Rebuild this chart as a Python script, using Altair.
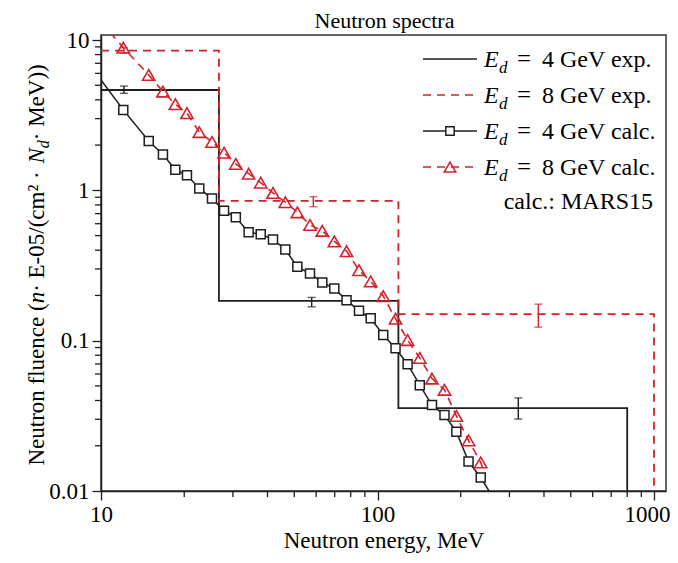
import altair as alt
import pandas as pd

# ---------------- data ----------------
calc_energy = [12.04, 14.88, 16.75, 18.57, 20.46, 22.67, 25.20, 27.86, 30.73, 34.19,
               37.81, 41.88, 46.41, 51.29, 57.00, 63.15, 69.79, 77.27, 85.73, 94.50,
               104.9, 116.2, 128.5, 142.2, 157.4, 174.7, 192.8, 213.4, 236.2]
calc_4gev = [3.43, 2.13, 1.73, 1.37, 1.26, 1.03, 0.881, 0.733, 0.662, 0.526,
             0.511, 0.471, 0.404, 0.310, 0.280, 0.244, 0.222, 0.186, 0.158, 0.141,
             0.109, 0.089, 0.0697, 0.0506, 0.0373, 0.0320, 0.0248, 0.0157, 0.0123]
calc_8gev = [8.89, 5.86, 4.54, 3.74, 3.26, 2.44, 2.10, 1.78, 1.50, 1.29,
             1.125, 0.961, 0.835, 0.714, 0.589, 0.538, 0.457, 0.394, 0.294, 0.248,
             0.198, 0.140, 0.101, 0.0768, 0.0560, 0.0471, 0.0316, 0.0217, 0.0155]
calc_4gev_start = (10, 5.42)
calc_4gev_end = (254, 0.0099)
calc_8gev_start = (10, 13.2)
calc_8gev_end = (245, 0.0128)

exp_edges_4gev = [10, 26.7, 119, 800]
exp_vals_4gev = [4.65, 0.184, 0.0356]
exp_edges_8gev = [10, 26.7, 119, 1000]
exp_vals_8gev = [8.5, 0.85, 0.1504]
floor_value = 0.01

err_4gev_e = [12.1, 57.8, 323]
err_4gev_lo = [4.42, 0.168, 0.0301]
err_4gev_hi = [4.94, 0.194, 0.0416]
err_8gev_e = [12.1, 58.6, 381.6]
err_8gev_lo = [8.2, 0.778, 0.123]
err_8gev_hi = [8.9, 0.907, 0.175]

x_major = [10, 100, 1000]
x_minor = [20, 30, 40, 50, 60, 70, 80, 90, 200, 300, 400, 500, 600, 700, 800, 900]
y_major = [0.01, 0.1, 1, 10]
y_minor = [0.02, 0.03, 0.04, 0.05, 0.06, 0.07, 0.08, 0.09,
           0.2, 0.3, 0.4, 0.5, 0.6, 0.7, 0.8, 0.9,
           2, 3, 4, 5, 6, 7, 8, 9]

legend_labels = ["= 4 GeV exp.", "= 8 GeV exp.", "= 4 GeV calc.", "= 8 GeV calc."]
note_text = "calc.: MARS15"
title_text = "Neutron spectra"
x_title = "Neutron energy, MeV"

# ---------------- style ----------------
FONT = "Liberation Serif"
BLACK = "#1e1e1e"
RED = "#d6212b"
DASH = [8, 6]
W, H = 565, 456
OX, OY = 101, 35  # plot origin on page
MINOR = 6

xscale = alt.Scale(type="log", domain=[10, 1105], nice=False)
yscale = alt.Scale(type="log", domain=[0.01, 10.8], nice=False)
x_axis = alt.Axis(values=x_major, format="~g", tickSize=9, labelFlush=False,
                  labelOffset=alt.condition("datum.value >= 1000", alt.value(-7), alt.value(0)),
                  title=x_title, labelPadding=3, titlePadding=3)
y_axis = alt.Axis(values=y_major, format="~g", tickSize=9, labelFlush=False,
                  title=None, labelPadding=3)


def X(field="e"):
    return alt.X(f"{field}:Q", scale=xscale, axis=x_axis)


def Y(field="v"):
    return alt.Y(f"{field}:Q", scale=yscale, axis=y_axis)


# ---------------- tables ----------------
exp4 = pd.DataFrame({"e": exp_edges_4gev, "v": exp_vals_4gev + [floor_value]})
exp8 = pd.DataFrame({"e": exp_edges_8gev, "v": exp_vals_8gev + [floor_value]})
line4 = pd.DataFrame({"e": [calc_4gev_start[0]] + calc_energy + [calc_4gev_end[0]],
                      "v": [calc_4gev_start[1]] + calc_4gev + [calc_4gev_end[1]]})
line8 = pd.DataFrame({"e": [calc_8gev_start[0]] + calc_energy + [calc_8gev_end[0]],
                      "v": [calc_8gev_start[1]] + calc_8gev + [calc_8gev_end[1]]})
pts4 = pd.DataFrame({"e": calc_energy, "v": calc_4gev})
pts8 = pd.DataFrame({"e": calc_energy, "v": calc_8gev})
err4 = pd.DataFrame({"e": err_4gev_e, "lo": err_4gev_lo, "hi": err_4gev_hi})
err8 = pd.DataFrame({"e": err_8gev_e, "lo": err_8gev_lo, "hi": err_8gev_hi})
xminor_df = pd.DataFrame({"e": x_minor})
yminor_df = pd.DataFrame({"v": y_minor})
dummy = pd.DataFrame({"k": [0]})

layers = []
layers.append(alt.Chart(exp4).mark_line(interpolate="step-after", color=BLACK, strokeWidth=1.8, clip=True)
              .encode(x=X(), y=Y()))
layers.append(alt.Chart(exp8).mark_line(interpolate="step-after", color=RED, strokeWidth=1.8,
                                        strokeDash=DASH, clip=True)
              .encode(x=X(), y=Y()))
layers.append(alt.Chart(line4).mark_line(color=BLACK, strokeWidth=1.5, clip=True)
              .encode(x=X(), y=Y()))
layers.append(alt.Chart(line8).mark_line(color=RED, strokeWidth=1.6, strokeDash=DASH, clip=True)
              .encode(x=X(), y=Y()))
layers.append(alt.Chart(err4).mark_errorbar(ticks={"size": 8}, thickness=1.4, color=BLACK)
              .encode(x=X(), y=Y("lo"), y2="hi:Q"))
layers.append(alt.Chart(err8).mark_errorbar(ticks={"size": 8}, thickness=1.4, color=RED)
              .encode(x=X(), y=Y("lo"), y2="hi:Q"))
layers.append(alt.Chart(pts4).mark_point(shape="square", size=81, filled=True, fill="white",
                                         stroke=BLACK, strokeWidth=1.5, opacity=1)
              .encode(x=X(), y=Y()))
layers.append(alt.Chart(pts8).mark_point(shape="triangle-up", size=150, filled=False,
                                         stroke=RED, strokeWidth=1.6, opacity=1)
              .encode(x=X(), y=Y()))
# minor log ticks (outward), placed through the scales
layers.append(alt.Chart(xminor_df).mark_rule(color=BLACK, strokeWidth=1.3)
              .encode(x=X(), y=alt.value(H), y2=alt.value(H + MINOR)))
layers.append(alt.Chart(yminor_df).mark_rule(color=BLACK, strokeWidth=1.3)
              .encode(y=Y(), x=alt.value(0), x2=alt.value(-MINOR)))


def txt(text, x, y, size=24, style="normal", align="left", angle=0):
    kw = dict(text=text, font=FONT, fontSize=size, fontStyle=style, align=align,
              baseline="alphabetic", color="black")
    if angle:
        kw["angle"] = angle
    return alt.Chart(dummy).mark_text(**kw).encode(x=alt.value(x - OX), y=alt.value(y - OY))


# ---------------- title ----------------
layers.append(txt(title_text, OX + W / 2 + 1, 28, size=22, align="center"))

# ---------------- legend (inside plot, top right) ----------------
row_y = [59, 95, 131, 167, 201]
leg_colors = [BLACK, RED, BLACK, RED]
leg_dash = [None, DASH, None, DASH]
leg_shape = [None, None, "square", "triangle-up"]
for i, lab in enumerate(legend_labels):
    rk = dict(color=leg_colors[i], strokeWidth=1.6)
    if leg_dash[i]:
        rk["strokeDash"] = leg_dash[i]
    layers.append(alt.Chart(dummy).mark_rule(**rk).encode(
        x=alt.value(423 - OX), x2=alt.value(477 - OX), y=alt.value(row_y[i] - OY)))
    if leg_shape[i] == "square":
        layers.append(alt.Chart(dummy).mark_point(shape="square", size=70, filled=True, fill="white",
                                                  stroke=BLACK, strokeWidth=1.5, opacity=1)
                      .encode(x=alt.value(450 - OX), y=alt.value(row_y[i] - OY)))
    elif leg_shape[i] == "triangle-up":
        layers.append(alt.Chart(dummy).mark_point(shape="triangle-up", size=130, filled=False,
                                                  stroke=RED, strokeWidth=1.6, opacity=1)
                      .encode(x=alt.value(450 - OX), y=alt.value(row_y[i] - OY)))
    base = row_y[i] + 8
    layers.append(txt("E", 484, base, style="italic"))
    layers.append(txt("d", 499, base + 6, size=17, style="italic"))
    layers.append(txt(lab.split(" ", 1)[0], 517, base, size=25))
    layers.append(txt(lab.split(" ", 1)[1], 542, base))
layers.append(txt(note_text, 653, row_y[4] + 8, align="right"))

# ---------------- y-axis title with italic parts (rotated) ----------------
FS = 23
pieces = [("Neutron fluence (", "normal", FS, 0, 7.053),
          ("n", "italic", FS, 0, 0.500),
          (" \u00b7 E-05/(cm\u00b2 \u00b7 ", "normal", FS, 0, 5.577),
          ("N", "italic", FS, 0, 0.667),
          ("d", "italic", 16, 5, 0.500),
          (" \u00b7 MeV))", "normal", FS, 0, 3.471)]
total = sum(p[2] * p[4] for p in pieces)
ypos = OY + H / 2 + total / 2
for text, style, size, shift, em in pieces:
    layers.append(txt(text, 44 + shift, ypos, size=size, style=style, angle=270))
    ypos -= size * em

chart = alt.layer(*layers).properties(
    width=W, height=H,
    autosize=alt.AutoSizeParams(type="none"),
    padding={"left": OX - 8, "top": OY - 8, "right": 4, "bottom": 64},
).configure_axis(
    labelFont=FONT, labelFontSize=23, labelColor="black",
    titleFont=FONT, titleFontSize=23, titleFontWeight="normal", titleColor="black",
    tickColor=BLACK, domainColor=BLACK, tickWidth=1.3, domainWidth=1.5, grid=False,
).configure_view(stroke="#333333", strokeWidth=1.5)

chart.save("out.html", embed_options={"renderer": "svg", "actions": False})
